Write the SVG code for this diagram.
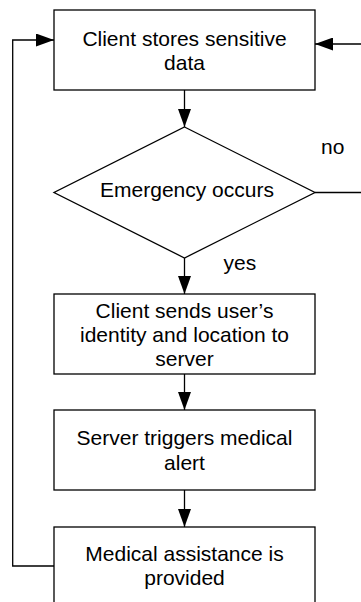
<svg xmlns="http://www.w3.org/2000/svg" width="361" height="602" viewBox="0 0 361 602">
<style>
.box{fill:#fff;stroke:#000;stroke-width:1.3}
.edge{fill:none;stroke:#000;stroke-width:1.3}
.t{font-family:"Liberation Sans",Arial,sans-serif;font-size:21px;fill:#000;text-anchor:middle}
.lbl{font-family:"Liberation Sans",Arial,sans-serif;font-size:21px;fill:#000}
</style>
<defs>
<marker id="ah" markerUnits="userSpaceOnUse" markerWidth="18" markerHeight="13" refX="18" refY="6.5" orient="auto">
<path d="M0,0 L18,6.5 L0,13 z" fill="#000"/>
</marker>
</defs>
<rect width="361" height="602" fill="#fff"/>
<g id="connectors">
<line class="edge" x1="184.5" y1="90" x2="184.5" y2="127" marker-end="url(#ah)"/>
<line class="edge" x1="184.5" y1="258" x2="184.5" y2="294" marker-end="url(#ah)"/>
<line class="edge" x1="184.5" y1="374" x2="184.5" y2="410" marker-end="url(#ah)"/>
<line class="edge" x1="184.5" y1="490" x2="184.5" y2="527" marker-end="url(#ah)"/>
<polyline class="edge" points="315,192.5 372,192.5 372,44 315,44" marker-end="url(#ah)"/>
<polyline class="edge" points="54,566 12.7,566 12.7,40 54,40" marker-end="url(#ah)"/>
<text class="lbl" x="321" y="154">no</text>
<text class="lbl" x="223.5" y="270">yes</text>
</g>
<g id="n1">
<rect class="box" x="54" y="10" width="261" height="80"/>
<text class="t" x="184.5" y="45.5">Client stores sensitive</text>
<text class="t" x="184.5" y="69.5">data</text>
</g>
<g id="n2">
<polygon class="box" points="184.5,127 315,192.5 184.5,258 54,192.5"/>
<text class="t" x="187" y="197">Emergency occurs</text>
</g>
<g id="n3">
<rect class="box" x="54" y="294" width="261" height="80"/>
<text class="t" x="184.5" y="317.5">Client sends user’s</text>
<text class="t" x="184.5" y="341.5">identity and location to</text>
<text class="t" x="184.5" y="365.5">server</text>
</g>
<g id="n4">
<rect class="box" x="54" y="410" width="261" height="80"/>
<text class="t" x="184.5" y="445">Server triggers medical</text>
<text class="t" x="184.5" y="469.5">alert</text>
</g>
<g id="n5">
<rect class="box" x="54" y="527" width="261" height="80"/>
<text class="t" x="184.5" y="561">Medical assistance is</text>
<text class="t" x="184.5" y="585">provided</text>
</g>
</svg>
